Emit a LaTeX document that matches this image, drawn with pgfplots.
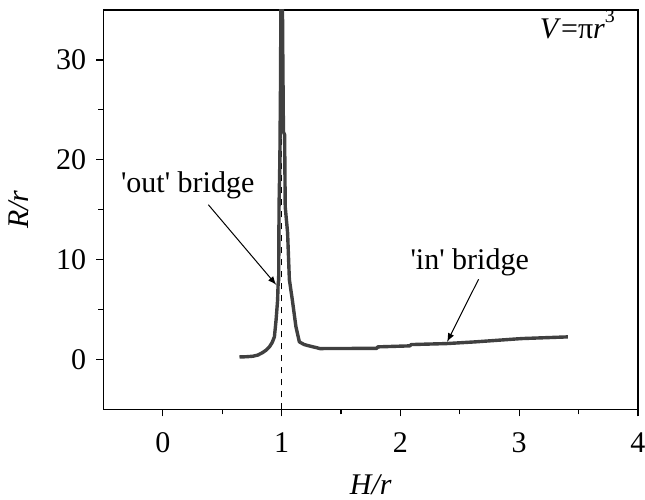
\documentclass[border=0pt]{standalone}
\usepackage{fontspec}
\setmainfont{Liberation Serif}
\usepackage{pgfplots}
\pgfplotsset{compat=1.18}
\definecolor{curve}{HTML}{404040}
\begin{document}
\fontsize{15}{18}\selectfont
\begin{tikzpicture}
\begin{axis}[
  scale only axis,
  width=267.25pt, height=199.75pt,
  xmin=-0.5, xmax=4, ymin=-5, ymax=35,
  xtick={0,1,2,3,4}, ytick={0,10,20,30},
  minor x tick num=1, minor y tick num=1,
  tick align=outside,
  xtick pos=left, ytick pos=left,
  major tick length=3.5pt, minor tick length=2.5pt,
  every tick/.style={black, line width=0.6pt},
  axis line style={line width=0.65pt},
  /pgf/number format/assume math mode=true,
  xticklabel style={yshift=-3pt},
  xlabel={\textit{H/r}}, ylabel={\textit{R/r}},
  xlabel style={yshift=-0.5pt},
  ylabel style={yshift=3.5pt},
  clip=true,
]
\addplot[black, dashed, line width=0.4pt] coordinates {(1,-5) (1,35)};
\addplot[curve, line width=1.7pt, line join=round] coordinates {
(0.645,0.26) (0.70,0.28) (0.757,0.33) (0.80,0.45) (0.84,0.70) (0.87,0.95)
(0.897,1.27) (0.92,1.7) (0.939,2.27) (0.953,3.95) (0.966,5.96) (0.970,7.5)
(0.975,8.0) (0.978,15.3) (0.985,20) (0.99,27) (0.996,40)
(1.004,40) (1.01,30) (1.015,22.8) (1.025,22.5) (1.03,15.3) (1.05,12.7)
(1.065,8) (1.09,5.96) (1.12,3.3) (1.149,1.77) (1.19,1.5) (1.23,1.37)
(1.30,1.17) (1.32,1.1) (1.80,1.12) (1.81,1.27) (2.08,1.37) (2.09,1.5)
(2.39,1.6) (2.63,1.77) (2.83,1.94) (3.02,2.1) (3.25,2.2) (3.41,2.27)
};
\node[anchor=base] at (axis cs:0.209,16.7) {\textquotesingle out\textquotesingle\ bridge};
\node[anchor=base] at (axis cs:2.583,8.97) {\textquotesingle in\textquotesingle\ bridge};
\node[anchor=base] at (axis cs:3.49,32.1) {\textit{V}=π\textit{r}\raisebox{0.55em}{\fontsize{10}{12}\selectfont 3}};
\draw[-latex, line width=0.5pt] (axis cs:0.383,15.5) -- (axis cs:0.955,7.47);
\draw[-latex, line width=0.5pt] (axis cs:2.658,8.04) -- (axis cs:2.393,1.77);
\coordinate (bl) at (rel axis cs:-0.1936,-0.2265);
\coordinate (tr) at (rel axis cs:1.0131,1.025);
\end{axis}
\pgfresetboundingbox
\path (bl) rectangle (tr);
\end{tikzpicture}
\end{document}
